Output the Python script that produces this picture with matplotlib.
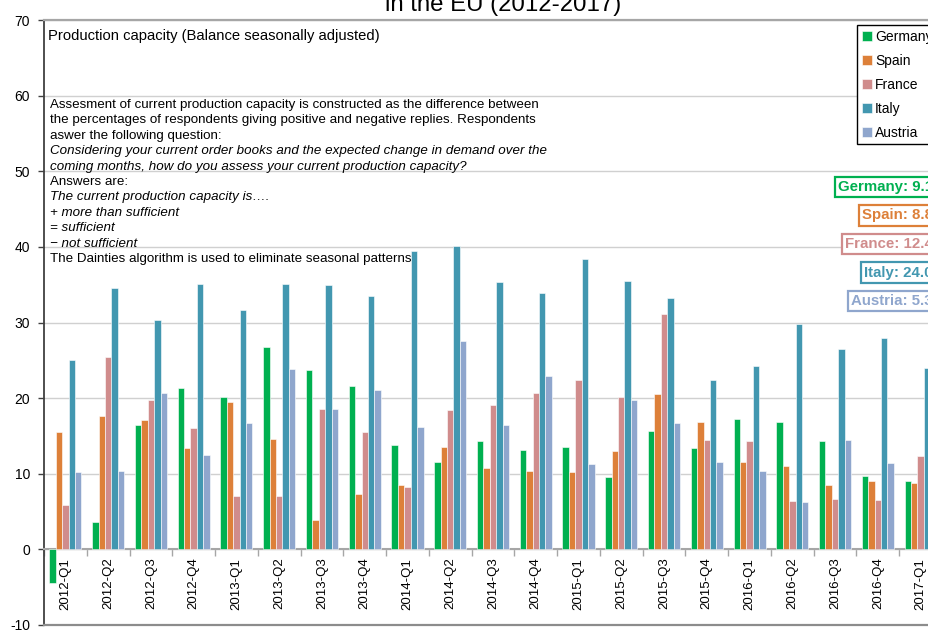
import numpy as np
import matplotlib
matplotlib.use("Agg")
import matplotlib.pyplot as plt

plt.rcParams['font.family'] = ['Liberation Sans', 'DejaVu Sans']
plt.rcParams['axes.unicode_minus'] = False

quarters = ["2012-Q1", "2012-Q2", "2012-Q3", "2012-Q4",
            "2013-Q1", "2013-Q2", "2013-Q3", "2013-Q4",
            "2014-Q1", "2014-Q2", "2014-Q3", "2014-Q4",
            "2015-Q1", "2015-Q2", "2015-Q3", "2015-Q4",
            "2016-Q1", "2016-Q2", "2016-Q3", "2016-Q4",
            "2017-Q1"]

germany = [-4.4, 3.6, 16.4, 21.4, 20.2, 26.7, 23.7, 21.6, 13.8, 11.5, 14.3,
           13.2, 13.6, 9.6, 15.6, 13.4, 17.2, 16.8, 14.3, 9.7, 9.1]
spain = [15.5, 17.7, 17.1, 13.4, 19.5, 14.6, 3.9, 7.3, 8.5, 13.6, 10.7,
         10.3, 10.2, 13.0, 20.5, 16.9, 11.6, 11.0, 8.5, 9.1, 8.8]
france = [5.9, 25.5, 19.7, 16.0, 7.1, 7.0, 18.6, 15.5, 8.2, 18.4, 19.1,
          20.7, 22.4, 20.2, 31.1, 14.5, 14.3, 6.4, 6.7, 6.5, 12.4]
italy = [25.0, 34.5, 30.3, 35.1, 31.7, 35.1, 35.0, 33.5, 39.4, 40.1, 35.3,
         33.9, 38.4, 35.5, 33.2, 22.4, 24.3, 29.8, 26.5, 27.9, 24.0]
austria = [10.2, 10.3, 20.7, 12.5, 16.7, 23.8, 18.5, 21.1, 16.2, 27.5, 16.4,
           22.9, 11.3, 19.8, 16.7, 11.6, 10.3, 6.2, 14.5, 11.4, 5.3]

series_names = ["Germany", "Spain", "France", "Italy", "Austria"]
series_values = [germany, spain, france, italy, austria]
series_colors = ["#00B050", "#DD8039", "#D08C8C", "#4297B0", "#8FA6CD"]

yticks = [-10, 0, 10, 20, 30, 40, 50, 60, 70]

W, H = 929, 630
fig = plt.figure(figsize=(W / 100, H / 100), dpi=100)
ax = fig.add_axes([44 / W, 1 - 625 / H, 898 / W, 605 / H])

x = np.arange(len(quarters))
width = 0.15
bars = []
for i, (name, vals, col) in enumerate(zip(series_names, series_values, series_colors)):
    b = ax.bar(x + (i - 2) * width, vals, width, color=col, edgecolor='white',
               linewidth=0.4, label=name, zorder=3)
    bars.append(b)

ax.set_xlim(-0.5, len(quarters) - 0.5)
ax.set_ylim(-10, 70)
ax.set_yticks(yticks)
ax.set_yticklabels([str(v) for v in yticks], fontsize=10)
ax.yaxis.grid(True, color='#d0d0d0', linewidth=1, zorder=0)
ax.set_axisbelow(True)

# spines
ax.spines['right'].set_visible(False)
ax.spines['left'].set_color('#404040')
ax.spines['left'].set_linewidth(1.3)
ax.spines['top'].set_color('#a6a6a6')
ax.spines['top'].set_linewidth(1.6)
ax.spines['bottom'].set_position(('data', 0))
ax.spines['bottom'].set_color('#a6a6a6')
ax.spines['bottom'].set_linewidth(1.5)
ax.axhline(-10, color='#8c8c8c', linewidth=1.6, clip_on=False, zorder=5)

ax.tick_params(axis='y', direction='out', length=4, width=1, color='#404040', pad=6)
ax.set_xticks(np.arange(-0.5, len(quarters), 1.0))
ax.set_xticklabels([])
ax.tick_params(axis='x', which='major', direction='out', length=5, width=1, color='#a6a6a6')
ax.set_xticks(x, minor=True)
ax.set_xticklabels(quarters, minor=True, rotation=90, fontsize=9.5, va='top', ha='center')
ax.tick_params(axis='x', which='minor', length=0, pad=6)

# title (cropped in reference)
fig.text(503.5 / W, 1 - 11 / H, "in the EU (2012-2017)", ha='center', va='baseline', fontsize=17.3)

# heading
ax.text(48 / W, 1 - 36 / H, "Production capacity (Balance seasonally adjusted)",
        transform=fig.transFigure, ha='left', va='center', fontsize=10.6, zorder=6)

desc_lines = [
    ("Assesment of current production capacity is constructed as the difference between", 'normal'),
    ("the percentages of respondents giving positive and negative replies. Respondents", 'normal'),
    ("aswer the following question:", 'normal'),
    ("Considering your current order books and the expected change in demand over the", 'italic'),
    ("coming months, how do you assess your current production capacity?", 'italic'),
    ("Answers are:", 'normal'),
    ("The current production capacity is\u2026.", 'italic'),
    ("+ more than sufficient", 'italic'),
    ("= sufficient", 'italic'),
    ("\u2212 not sufficient", 'italic'),
    ("The Dainties algorithm is used to eliminate seasonal patterns", 'normal'),
]
for k, (line, style) in enumerate(desc_lines):
    fig.text(50 / W, 1 - (105 + k * 15.4) / H, line, ha='left', va='center',
             fontsize=9.6, style=style, zorder=6)

# legend
leg = ax.legend(handles=bars, loc='upper left', bbox_to_anchor=(857 / W, 1 - 24.7 / H),
                bbox_transform=fig.transFigure, borderaxespad=0, fontsize=10,
                frameon=True, fancybox=False, framealpha=1, edgecolor='black',
                handlelength=0.7, handleheight=0.7, handletextpad=0.25,
                labelspacing=0.72, borderpad=0.35)
leg.get_frame().set_linewidth(1.0)
leg.set_zorder(10)

# latest value boxes
for k, (name, vals, col) in enumerate(zip(series_names, series_values, series_colors)):
    fig.text(933 / W, 1 - (187 + k * 28.5) / H, f"{name}: {vals[-1]:.1f}",
             ha='right', va='center', color=col, fontweight='bold', fontsize=10.8,
             bbox=dict(boxstyle='square,pad=0.22', fc='white', ec=col, lw=1.6), zorder=10)

fig.savefig("out.png", dpi=100)
